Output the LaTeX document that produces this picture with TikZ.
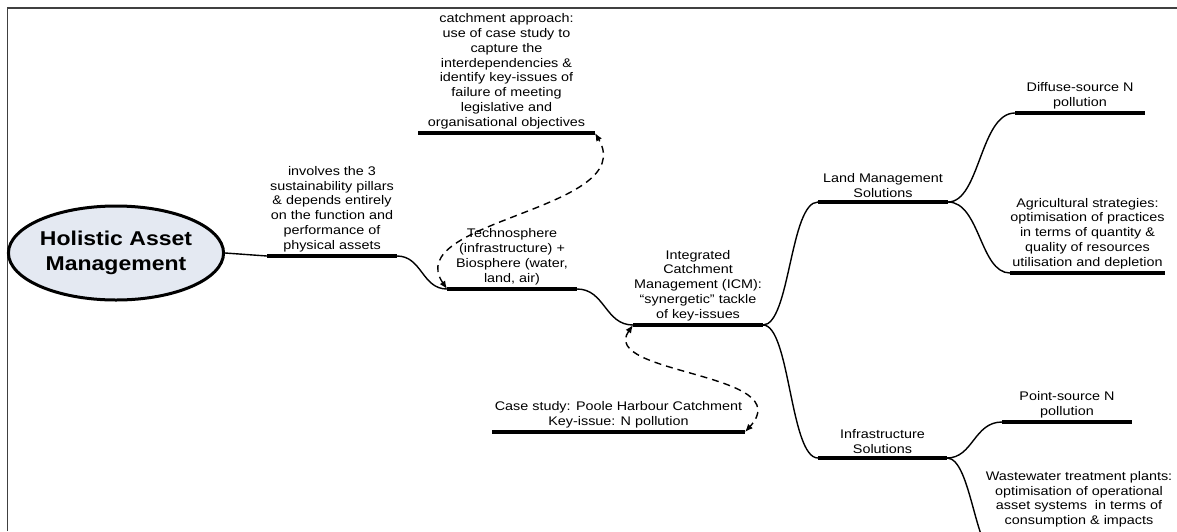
\documentclass[tikz,border=0pt]{standalone}
\usepackage{fontspec}
\setmainfont[FakeStretch=1.15]{Liberation Sans}
\usetikzlibrary{arrows.meta,calc,shapes.geometric}
\begin{document}
\begin{tikzpicture}[x=1pt,y=-1pt,
  bar/.style={line width=3.6pt},
  conn/.style={line width=1.4pt},
  rel/.style={line width=1.4pt, dash pattern=on 7pt off 5pt,
    {Latex[length=8pt,width=6.5pt]}-{Latex[length=8pt,width=6.5pt]}},
  lbl/.style={font=\fontsize{12.5}{14.8}\selectfont, align=center, inner sep=0pt, anchor=south},
]
\useasboundingbox (0,0) rectangle (1177,531);
\draw[line width=1.5pt, draw=black!75] (7.5,531) -- (7.5,8) -- (1177,8);

\node[ellipse, draw, line width=3pt, fill={rgb,255:red,228;green,233;blue,242},
  minimum width=212pt, minimum height=94pt, inner sep=0pt,
  font=\bfseries\fontsize{20}{25}\selectfont, align=center] (ham) at (116,253)
  {Holistic Asset\\Management};

% bar end points
\coordinate (n1a) at (267,256);  \coordinate (n1b) at (397,256);
\coordinate (tea) at (447,289);  \coordinate (teb) at (577,289);
\coordinate (ica) at (633,325);  \coordinate (icb) at (763,325);
\coordinate (lma) at (818,202);  \coordinate (lmb) at (948,202);
\coordinate (isa) at (818,458);  \coordinate (isb) at (947,458);
\coordinate (dfa) at (1015,113); \coordinate (dfb) at (1145,113);
\coordinate (aga) at (1010,273); \coordinate (agb) at (1165,273);
\coordinate (pta) at (1002,422); \coordinate (ptb) at (1132,422);
\coordinate (caa) at (418,133);  \coordinate (cab) at (595,133);
\coordinate (poa) at (492,432);  \coordinate (pob) at (745,432);
\coordinate (wwa) at (1000,560);

\foreach \n in {n1,te,ic,lm,is,df,ag,pt,ca,po}
  \draw[bar] (\n a) -- (\n b);

% labels
\node[lbl] (n1) at ($(n1a)!.5!(n1b)+(0,-4)$) {involves the 3\\sustainability pillars\\\& depends entirely\\on the function and\\performance of\\physical assets};
\node[lbl] (te) at ($(tea)!.5!(teb)+(0,-4)$) {Technosphere\\(infrastructure) +\\Biosphere (water,\\land, air)};
\node[lbl] (ic) at ($(ica)!.5!(icb)+(0,-4)$) {Integrated\\Catchment\\Management (ICM):\\“synergetic” tackle\\of key-issues};
\node[lbl] (lm) at ($(lma)!.5!(lmb)+(0,-4)$) {Land Management\\Solutions};
\node[lbl] (is) at ($(isa)!.5!(isb)+(0,-4)$) {Infrastructure\\Solutions};
\node[lbl] (df) at ($(dfa)!.5!(dfb)+(0,-4)$) {Diffuse-source N\\pollution};
\node[lbl] (ag) at ($(aga)!.5!(agb)+(0,-4)$) {Agricultural strategies:\\optimisation of practices\\in terms of quantity \&\\quality of resources\\utilisation and depletion};
\node[lbl] (pt) at ($(pta)!.5!(ptb)+(0,-4)$) {Point-source N\\pollution};
\node[lbl] (ca) at ($(caa)!.5!(cab)+(0,-4)$) {catchment approach:\\use of case study to\\capture the\\interdependencies \&\\identify key-issues of\\failure of meeting\\legislative and\\organisational objectives};
\node[lbl] (po) at ($(poa)!.5!(pob)+(0,-4)$) {Case study: Poole Harbour Catchment\\Key-issue: N pollution};
\node[lbl, anchor=north] (ww) at (1079,471) {Wastewater treatment plants:\\optimisation of operational\\asset systems\ \ in terms of\\consumption \& impacts};

% branch connectors
\draw[conn] (ham.east) -- (n1a);
\draw[conn] (n1b) .. controls +(25,0) and +(-25,0) .. (tea);
\draw[conn] (teb) .. controls +(28,0) and +(-28,0) .. (ica);
\draw[conn] (icb) .. controls +(27,0) and +(-28,0) .. (lma);
\draw[conn] (icb) .. controls +(27,0) and +(-28,0) .. (isa);
\draw[conn] (lmb) .. controls +(32,0) and +(-35,0) .. (dfa);
\draw[conn] (lmb) .. controls +(32,0) and +(-30,0) .. (aga);
\draw[conn] (isb) .. controls +(26,0) and +(-28,0) .. (pta);
\draw[conn] (isb) .. controls +(25,0) and +(-25,0) .. (wwa);

% relationship links
\draw[rel] (tea) .. controls (400,220) and (640,210) .. (cab);
\draw[rel] (ica) .. controls (598,375) and (800,372) .. (pob);
\end{tikzpicture}
\end{document}
